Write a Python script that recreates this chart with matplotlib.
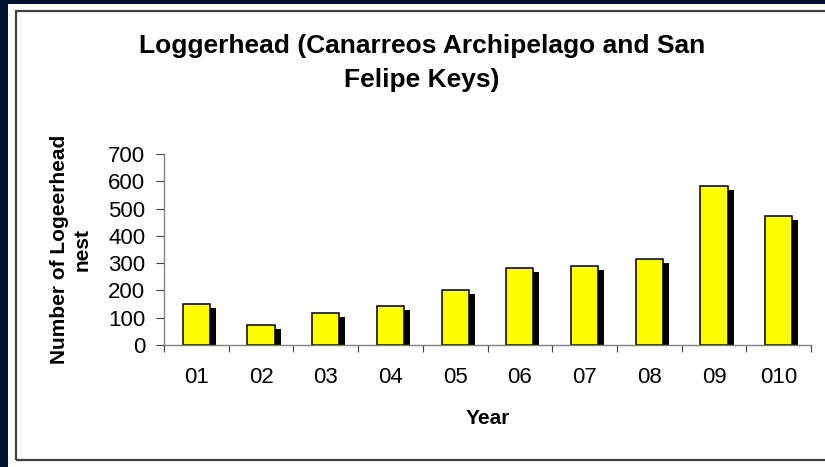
import matplotlib
matplotlib.use("Agg")
import matplotlib.pyplot as plt
import matplotlib.patheffects as pe
from matplotlib.patches import Rectangle
import numpy as np

# Данные
years = ['01', '02', '03', '04', '05', '06', '07', '08', '09', '010']
nests = [150, 72, 118, 144, 203, 282, 288, 315, 583, 472]

plt.rcParams['font.family'] = ['Liberation Sans', 'DejaVu Sans']

W, H = 825, 467
fig = plt.figure(figsize=(W / 100, H / 100), dpi=100)
fig.patch.set_facecolor('white')

# Тёмно-синяя рамка слайда и контур области диаграммы
navy = '#00122e'
fig.patches.append(Rectangle((0, 0), 8 / W, 1, transform=fig.transFigure,
                             facecolor=navy, edgecolor='none', zorder=0))
fig.patches.append(Rectangle((0, 1 - 4 / H), 1, 4 / H, transform=fig.transFigure,
                             facecolor=navy, edgecolor='none', zorder=0))
fig.patches.append(Rectangle((16 / W, (H - 460) / H), 1.2, (460 - 11) / H,
                             transform=fig.transFigure, facecolor='none',
                             edgecolor='#404040', linewidth=1.6, zorder=1))

ax = fig.add_axes([164 / W, (H - 345) / H, (811 - 164) / W, (345 - 154) / H])

x = np.arange(len(years))
shadow = [pe.SimplePatchShadow(offset=(4.3, -2.9), shadow_rgbFace='black', alpha=1.0),
          pe.Normal()]
bars = ax.bar(x, nests, width=0.42, color='#FFFF00', edgecolor='black', linewidth=1.1)
for b in bars:
    b.set_path_effects(shadow)

ax.set_xlim(-0.5, len(years) - 0.5)
ax.set_ylim(0, 700)
ax.set_yticks(np.arange(0, 701, 100))
ax.set_xticks(x)
ax.set_xticklabels(years)
ax.set_xticks(np.arange(-0.5, len(years), 1), minor=True)

for s in ['top', 'right']:
    ax.spines[s].set_visible(False)
for s in ['left', 'bottom']:
    ax.spines[s].set_color('#808080')
    ax.spines[s].set_linewidth(1.0)

ax.tick_params(axis='y', length=5.5, width=0.8, color='#404040', pad=8, labelsize=16)
ax.tick_params(axis='x', which='major', length=0, pad=16, labelsize=16)
ax.tick_params(axis='x', which='minor', length=5, width=0.8, color='#404040')

ax.set_ylabel('Number of Logeerhead\nnest', fontsize=15, fontweight='bold',
              labelpad=12, linespacing=1.25)
ax.set_xlabel('Year', fontsize=15, fontweight='bold', labelpad=15)

fig.text(422 / W, 1 - 34 / H, 'Loggerhead (Canarreos Archipelago and San\nFelipe Keys)',
         ha='center', va='top', fontsize=19, fontweight='bold', linespacing=1.5)

fig.savefig('out.png', dpi=100)
